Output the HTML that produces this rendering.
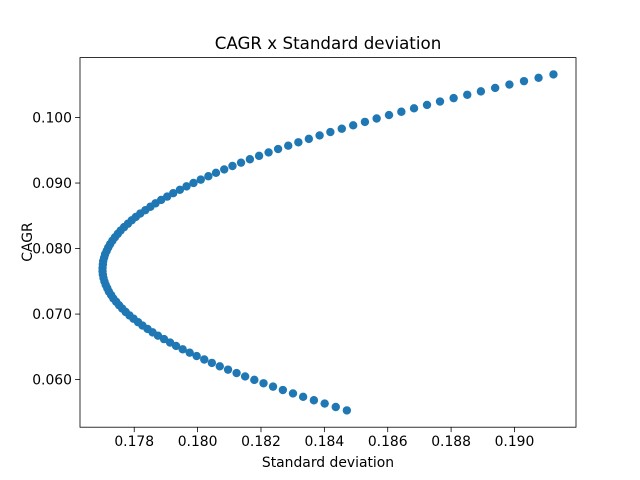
<!DOCTYPE html>
<html><head><meta charset="utf-8"><style>
body{margin:0;background:#fff}
svg{display:block;font-family:"DejaVu Sans","Liberation Sans",sans-serif}
</style></head><body>
<svg id="chart" width="640" height="480">
<rect width="640" height="480" fill="#fff"/>
<text x="328" y="49" font-size="16.7" text-anchor="middle">CAGR x Standard deviation</text>
<g id="marks"></g>
<g id="axes"></g>
<text x="328" y="467" font-size="13.9" text-anchor="middle">Standard deviation</text>
<text transform="translate(32,242) rotate(-90)" font-size="13.9" text-anchor="middle">CAGR</text>
</svg>
<script>
const cagr=[.05530,.05582,.05634,.05685,.05737,.05789,.05841,.05893,.05944,.05996,.06048,.06100,.06152,.06203,.06255,.06307,.06359,.06411,.06462,.06514,.06566,.06618,.06670,.06721,.06773,.06825,.06877,.06929,.06980,.07032,.07084,.07136,.07188,.07239,.07291,.07343,.07395,.07447,.07498,.07550,.07602,.07654,.07706,.07757,.07809,.07861,.07913,.07965,.08016,.08068,.08120,.08172,.08224,.08275,.08327,.08379,.08431,.08483,.08534,.08586,.08638,.08690,.08742,.08793,.08845,.08897,.08949,.09001,.09052,.09104,.09156,.09208,.09260,.09311,.09363,.09415,.09467,.09519,.09570,.09622,.09674,.09726,.09778,.09829,.09881,.09933,.09985,.10037,.10088,.10140,.10192,.10244,.10296,.10347,.10399,.10451,.10503,.10555,.10606,.10658];
const stdev=[.18471,.18436,.18401,.18367,.18333,.18301,.18269,.18238,.18208,.18179,.18150,.18123,.18096,.18070,.18045,.18021,.17997,.17975,.17953,.17932,.17913,.17894,.17875,.17858,.17842,.17826,.17812,.17798,.17785,.17773,.17762,.17752,.17743,.17734,.17727,.17720,.17715,.17710,.17706,.17703,.17701,.17700,.17700,.17701,.17702,.17705,.17708,.17713,.17718,.17724,.17731,.17739,.17748,.17757,.17768,.17780,.17792,.17805,.17819,.17835,.17851,.17867,.17885,.17904,.17923,.17944,.17965,.17987,.18010,.18034,.18058,.18084,.18110,.18137,.18165,.18194,.18224,.18254,.18286,.18318,.18351,.18385,.18419,.18455,.18491,.18528,.18565,.18604,.18643,.18683,.18724,.18765,.18808,.18851,.18894,.18939,.18984,.19030,.19076,.19123];
const xTicks=[0.178,0.180,0.182,0.184,0.186,0.188,0.190];
const yTicks=[0.060,0.070,0.080,0.090,0.100];
const L=80,R=576,T=57.6,B=427.2;
const xmin=Math.min(...stdev),xmax=Math.max(...stdev),ymin=Math.min(...cagr),ymax=Math.max(...cagr);
const xpad=(xmax-xmin)*0.05,ypad=(ymax-ymin)*0.05;
const x0=xmin-xpad,x1=xmax+xpad,y0=ymin-ypad,y1=ymax+ypad;
const sx=v=>L+(v-x0)/(x1-x0)*(R-L);
const sy=v=>B-(v-y0)/(y1-y0)*(B-T);
const NS="http://www.w3.org/2000/svg";
const marks=document.getElementById('marks'),axes=document.getElementById('axes');
function mk(tag,attrs,parent){const e=document.createElementNS(NS,tag);for(const k in attrs)e.setAttribute(k,attrs[k]);parent.appendChild(e);return e;}
for(let i=0;i<cagr.length;i++){
 const c=mk('circle',{cx:sx(stdev[i]),cy:sy(cagr[i]),r:4.2,fill:'#1f77b4'},marks);
 
 
}
const frame=mk('rect',{x:L,y:T,width:R-L,height:B-T,fill:'none',stroke:'#000','stroke-width':0.8},axes);


xTicks.forEach(v=>{
 const x=sx(v);
 const t=mk('line',{x1:x,x2:x,y1:B,y2:B+4.9,stroke:'#000','stroke-width':0.8},axes);
 
 
 const l=mk('text',{x:x,y:B+19,'font-size':13.9,'text-anchor':'middle'},axes);
 l.textContent=v.toFixed(3);
 
 
});
yTicks.forEach(v=>{
 const y=sy(v);
 const t=mk('line',{x1:L-4.9,x2:L,y1:y,y2:y,stroke:'#000','stroke-width':0.8},axes);
 
 
 const l=mk('text',{x:L-8,y:y+5,'font-size':13.9,'text-anchor':'end'},axes);
 l.textContent=v.toFixed(3);
 
 
});
</script>
</body></html>
